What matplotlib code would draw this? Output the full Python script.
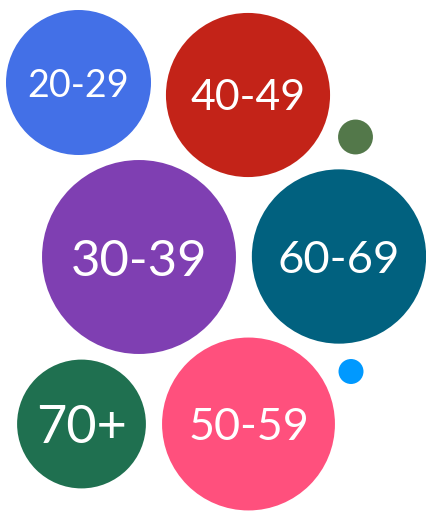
import matplotlib
matplotlib.use("Agg")
import matplotlib.pyplot as plt
from matplotlib.patches import Circle
import numpy as np

# Bubble data: age group, share (%), bubble centre (x, y)
labels = ["20-29", "40-49", "", "30-39", "60-69", "", "70+", "50-59"]
values = [12.8, 16.4, 0.74, 22.9, 18.5, 0.38, 10.1, 18.2]
x_pos = [78.5, 248, 355.5, 139, 339, 351, 81.5, 248.5]
y_pos = [82.5, 95, 137, 257, 256.5, 371.5, 424, 424]
colors = ["#4370E7", "#C32318", "#53784A", "#7F3FB2", "#01617F", "#0099FF", "#1F7050", "#FF507D"]

W, H = 426, 513
fig = plt.figure(figsize=(W / 100, H / 100), dpi=100)
ax = fig.add_axes([0, 0, 1, 1])
ax.set_xlim(0, W)
ax.set_ylim(H, 0)
ax.set_aspect("equal")
ax.axis("off")

scale = 72.5 / np.sqrt(values[0])
renderer = fig.canvas.get_renderer()

for lab, v, x, y, c in zip(labels, values, x_pos, y_pos, colors):
    r = scale * np.sqrt(v)
    ax.add_patch(Circle((x, y), r, facecolor=c, edgecolor="none"))
    if lab:
        t = ax.text(x, y, lab, ha="center", va="center_baseline", color="white",
                    fontsize=10, family="Lato")
        w = t.get_window_extent(renderer).width
        t.set_fontsize(10 * 1.4 * r / w)

fig.savefig("out.png", dpi=100)
